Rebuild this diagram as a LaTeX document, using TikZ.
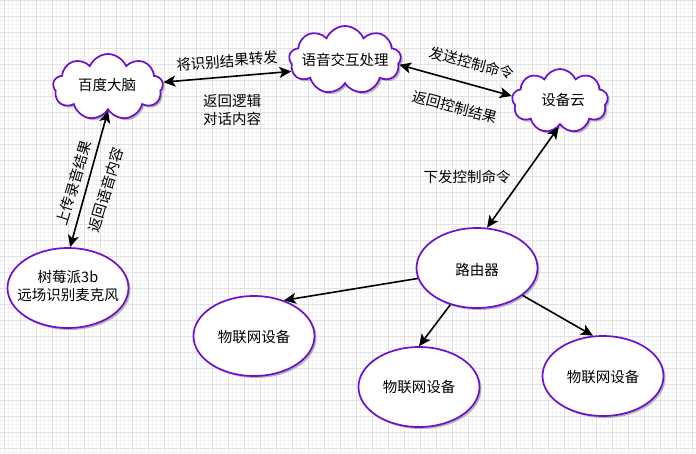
\documentclass[tikz,border=0pt]{standalone}
\usepackage{fontspec}
\setmainfont{Noto Sans CJK SC}
\usetikzlibrary{shapes.symbols,shapes.geometric,shadows,arrows.meta}
\definecolor{pur}{HTML}{6C0FD0}
\definecolor{gmaj}{HTML}{E2E2E2}
\definecolor{gmin}{HTML}{F3F3F3}
\begin{document}
\begin{tikzpicture}[x=1pt,y=-1pt,
  every node/.style={font=\fontsize{14.5}{18}\selectfont},
  shade/.style={drop shadow={shadow xshift=2pt,shadow yshift=-2pt,fill=black!35,opacity=0.8}},
  cloudbox/.style={cloud, cloud puffs=9, cloud puff arc=135, cloud ignores aspect,
    draw=pur, line width=1.7pt, fill=white, inner sep=0pt, shade},
  ovalbox/.style={ellipse, draw=pur, line width=1.7pt, fill=white, inner sep=0pt,
    minimum width=121pt, minimum height=80pt, shade},
  txt/.style={inner sep=0pt, align=center},
  lbl/.style={inner sep=1pt, align=center},
  link/.style={line width=1.6pt, draw=black, -{Stealth[length=12pt,width=11pt,inset=3pt]}},
  dlink/.style={line width=1.6pt, draw=black, {Stealth[length=12pt,width=11pt,inset=3pt]}-{Stealth[length=12pt,width=11pt,inset=3pt]}}
]
\useasboundingbox (0,0) rectangle (696,453);
\fill[white] (0,0) rectangle (696,453);
\foreach \x in {0,4,...,696} \draw[gmin, line width=0.5pt] (\x,0) -- (\x,453);
\foreach \y in {0,4,...,453} \draw[gmin, line width=0.5pt] (0,\y) -- (696,\y);
\foreach \x in {4,20,...,696} \draw[gmaj, line width=0.8pt] (\x,0) -- (\x,453);
\foreach \y in {0,16,...,453} \draw[gmaj, line width=0.8pt] (0,\y) -- (696,\y);

% shapes
\node[cloudbox, minimum width=110pt, minimum height=66pt] (baidu) at (108,87) {};
\node[cloudbox, minimum width=112pt, minimum height=68pt] (yuyin) at (345,60) {};
\node[cloudbox, minimum width=96pt, minimum height=64pt] (shebei) at (560,101) {};
\node[ovalbox] (shumei) at (68,288) {};
\node[ovalbox] (router) at (477,268) {};
\node[ovalbox] (iot1) at (254,336) {};
\node[ovalbox] (iot2) at (419,387) {};
\node[ovalbox] (iot3) at (603,376) {};

% texts
\node[txt] (baidut) at (107,85) {百度大脑};
\node[txt] (yuyint) at (345,60) {语音交互处理};
\node[txt] (shebeit) at (563,100) {设备云};
\node[txt, font=\fontsize{14.5}{17.5}\selectfont] (shumeit) at (68,286) {树莓派3b\\远场识别麦克风};
\node[txt] (routert) at (477,270) {路由器};
\node[txt] (iot1t) at (254,337) {物联网设备};
\node[txt] (iot2t) at (419,387) {物联网设备};
\node[txt] (iot3t) at (603,377) {物联网设备};

% connectors
\draw[dlink] (baidu.5) -- (yuyin.192);
\draw[dlink] (yuyin.-5) -- (shebei.174);
\draw[dlink] (baidu.270) -- (shumei.87);
\draw[dlink] (shebei.267) -- (router.76);
\draw[link] (router.190) -- (iot1.50);
\draw[link] (router.234) -- (iot2.90);
\draw[link] (router.329) -- (iot3.104);

% labels
\node[lbl, rotate=4] (l1) at (227,61) {将识别结果转发};
\node[lbl, font=\fontsize{14.5}{17.5}\selectfont] (l2) at (232,110) {返回逻辑\\对话内容};
\node[lbl, rotate=-15] (l3) at (472,63) {发送控制命令};
\node[lbl, rotate=-15] (l4) at (455,107) {返回控制结果};
\node[lbl, rotate=73] (l5) at (74,183) {上传录音结果};
\node[lbl, rotate=73] (l6) at (106,190) {返回语音内容};
\node[lbl] (l7) at (467,177) {下发控制命令};
\end{tikzpicture}
\end{document}
